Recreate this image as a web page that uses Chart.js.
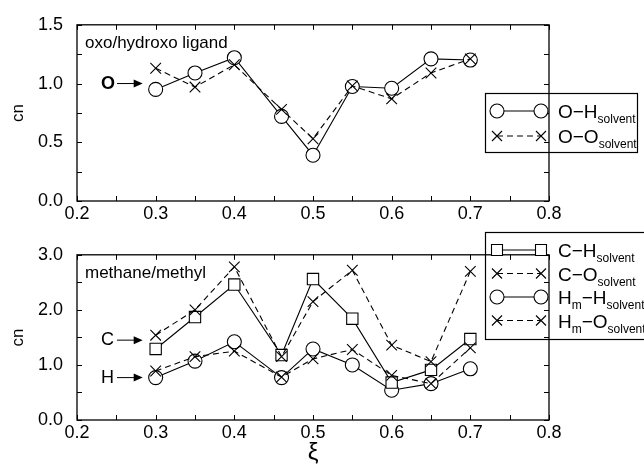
<!DOCTYPE html>
<html>
<head>
<meta charset="utf-8">
<script src="https://cdn.jsdelivr.net/npm/chart.js@4"></script>
<style>
  html, body { margin: 0; padding: 0; background: #fff; }
  #wrap { position: relative; width: 644px; height: 472px; }
  #topChart { position: absolute; left: 0; top: 0; }
  #botChart { position: absolute; left: 0; top: 230px; }
</style>
</head>
<body>
<div id="wrap">
  <canvas id="topChart" width="644" height="230"></canvas>
  <canvas id="botChart" width="644" height="242"></canvas>
</div>
<script>
// reaction coordinate xi
const xi = [0.3, 0.35, 0.4, 0.46, 0.5, 0.55, 0.6, 0.65, 0.7];

// oxo/hydroxo ligand
const oH = [0.95, 1.09, 1.22, 0.72, 0.39, 0.975, 0.96, 1.21, 1.20];
const oO = [1.13, 0.97, 1.16, 0.78, 0.53, 0.98, 0.87, 1.09, 1.21];

// methane/methyl
const cH = [1.29, 1.87, 2.46, 1.18, 2.56, 1.84, 0.68, 0.91, 1.47];
const cO = [1.54, 2.0, 2.78, 1.15, 2.15, 2.72, 1.36, 1.06, 2.7];
const hH = [0.77, 1.07, 1.42, 0.77, 1.29, 1.0, 0.54, 0.66, 0.93];
const hO = [0.89, 1.15, 1.25, 0.78, 1.11, 1.28, 0.81, 0.66, 1.31];

const topYTicks = [0.0, 0.5, 1.0, 1.5];
const botYTicks = [0.0, 1.0, 2.0, 3.0];

const FONT = "'Liberation Sans', Arial, sans-serif";

function pts(ys) {
  return xi.map((x, i) => ({ x: x, y: ys[i] }));
}

function series(label, ys, style, dashed, order) {
  return {
    label,
    data: pts(ys),
    borderColor: '#000',
    borderWidth: 1.1,
    borderDash: dashed ? [6, 4] : [],
    pointStyle: style,
    pointRadius: style === 'crossRot' ? 7.5 : (style === 'rect' ? 8 : 7),
    pointBorderColor: '#000',
    pointBorderWidth: 1.1,
    pointBackgroundColor: style === 'crossRot' ? 'transparent' : '#fff',
    tension: 0,
    order
  };
}

// marker used in the hand-drawn legend
function marker(ctx, style, x, y) {
  ctx.save();
  ctx.setLineDash([]);
  ctx.beginPath();
  if (style === 'circle') {
    ctx.arc(x, y, 7, 0, Math.PI * 2);
    ctx.fillStyle = '#fff';
    ctx.fill();
  } else if (style === 'rect') {
    ctx.rect(x - 5.5, y - 5.5, 11, 11);
    ctx.fillStyle = '#fff';
    ctx.fill();
  } else {
    ctx.moveTo(x - 5, y - 5); ctx.lineTo(x + 5, y + 5);
    ctx.moveTo(x + 5, y - 5); ctx.lineTo(x - 5, y + 5);
  }
  ctx.stroke();
  ctx.restore();
}

// text made of [string, isSub] parts
function richText(ctx, parts, x, y) {
  ctx.textBaseline = 'alphabetic';
  ctx.textAlign = 'left';
  parts.forEach(p => {
    ctx.font = p[1] ? '12px ' + FONT : '19px ' + FONT;
    ctx.fillText(p[0], x, p[1] ? y + 5 : y);
    x += ctx.measureText(p[0]).width;
  });
}

function arrow(ctx, x0, x1, y) {
  ctx.save();
  ctx.lineWidth = 1;
  ctx.beginPath();
  ctx.moveTo(x0, y);
  ctx.lineTo(x1 - 8, y);
  ctx.stroke();
  ctx.beginPath();
  ctx.moveTo(x1, y);
  ctx.lineTo(x1 - 9, y - 4);
  ctx.lineTo(x1 - 9, y + 4);
  ctx.closePath();
  ctx.fill();
  ctx.restore();
}

// frame, inward ticks, labels, legend
function decoPlugin(cfg) {
  return {
    id: 'deco',
    afterDraw(chart) {
      const ctx = chart.ctx;
      const a = chart.chartArea;
      const xs = chart.scales.x, ys = chart.scales.y;
      ctx.save();
      ctx.strokeStyle = '#000';
      ctx.fillStyle = '#000';
      ctx.lineWidth = 1.3;
      ctx.strokeRect(a.left, a.top, a.right - a.left, a.bottom - a.top);

      ctx.lineWidth = 1;
      const tl = 5;
      xs.ticks.forEach(t => {
        const px = Math.round(xs.getPixelForValue(t.value)) + 0.5;
        ctx.beginPath();
        ctx.moveTo(px, a.bottom); ctx.lineTo(px, a.bottom - tl);
        ctx.moveTo(px, a.top); ctx.lineTo(px, a.top + tl);
        ctx.stroke();
      });
      ys.ticks.forEach(t => {
        const py = Math.round(ys.getPixelForValue(t.value)) + 0.5;
        ctx.beginPath();
        ctx.moveTo(a.left, py); ctx.lineTo(a.left + tl, py);
        ctx.moveTo(a.right, py); ctx.lineTo(a.right - tl, py);
        ctx.stroke();
      });

      // axis title cn
      ctx.save();
      ctx.translate(18, (a.top + a.bottom) / 2);
      ctx.rotate(-Math.PI / 2);
      ctx.font = '17px ' + FONT;
      ctx.textAlign = 'center';
      ctx.textBaseline = 'middle';
      ctx.fillText('cn', 0, 0);
      ctx.restore();

      // panel title
      ctx.font = '17px ' + FONT;
      ctx.textAlign = 'left';
      ctx.textBaseline = 'middle';
      ctx.fillText(cfg.title, a.left + 8, a.top + 19);

      // arrow annotations
      const ax1 = xs.getPixelForValue(0.3) - 13;
      cfg.arrows.forEach(ar => {
        const py = ys.getPixelForValue(ar.y);
        ctx.font = (ar.bold ? 'bold ' : '') + '18px ' + FONT;
        ctx.textAlign = 'left';
        ctx.textBaseline = 'middle';
        ctx.fillText(ar.text, a.left + 24, py);
        arrow(ctx, a.left + 40, ax1, py);
      });

      if (cfg.xiLabel) {
        ctx.font = '24px ' + FONT;
        ctx.textAlign = 'center';
        ctx.textBaseline = 'middle';
        ctx.fillText('\u03BE', xs.getPixelForValue(0.5), a.bottom + 33);
      }

      // legend
      const L = cfg.legend;
      const bx = a.right - 64;
      ctx.lineWidth = 1.2;
      ctx.setLineDash([]);
      ctx.strokeRect(bx + 0.5, L.top + 0.5, L.width, L.height);
      ctx.lineWidth = 1.1;
      L.rows.forEach((r, i) => {
        const cy = L.first + i * L.step;
        const m0 = bx + 12, m1 = bx + 56;
        ctx.save();
        ctx.setLineDash(r.dashed ? [6, 4] : []);
        ctx.beginPath();
        ctx.moveTo(m0, cy); ctx.lineTo(m1, cy);
        ctx.stroke();
        ctx.restore();
        marker(ctx, r.style, m0, cy);
        marker(ctx, r.style, m1, cy);
        richText(ctx, r.text, bx + 73, cy + 7);
      });
      ctx.restore();
    }
  };
}

function makeChart(id, datasets, yMax, yStep, yLabels, padTop, xHeight, deco) {
  return new Chart(document.getElementById(id), {
    type: 'line',
    data: { datasets },
    options: {
      responsive: false,
      animation: false,
      layout: { padding: { left: 0, right: 95, top: padTop, bottom: 0 } },
      plugins: { legend: { display: false }, tooltip: { enabled: false } },
      scales: {
        x: {
          type: 'linear',
          min: 0.2, max: 0.8,
          grid: { display: false, drawTicks: false },
          border: { display: false },
          afterFit: s => { s.height = xHeight; },
          ticks: {
            stepSize: 0.05,
            autoSkip: false,
            maxRotation: 0,
            padding: 2,
            color: '#000',
            font: { family: FONT, size: 18 },
            callback: v => {
              const r = Math.round(v * 100);
              return r % 10 === 0 ? (r / 100).toFixed(1) : '';
            }
          }
        },
        y: {
          type: 'linear',
          min: 0, max: yMax,
          grid: { display: false, drawTicks: false },
          border: { display: false },
          afterFit: s => { s.width = 77; },
          ticks: {
            stepSize: yStep,
            autoSkip: false,
            padding: 14,
            color: '#000',
            font: { family: FONT, size: 18 },
            callback: v => {
              const hit = yLabels.find(t => Math.abs(t - v) < 1e-6);
              return hit === undefined ? '' : hit.toFixed(1);
            }
          }
        }
      }
    },
    plugins: [decoPlugin(deco)]
  });
}

makeChart('topChart', [
  series('O-H solvent', oH, 'circle', false, 1),
  series('O-O solvent', oO, 'crossRot', true, 0)
], 1.5, 0.25, topYTicks, 20, 29, {
  title: 'oxo/hydroxo ligand',
  arrows: [{ text: 'O', y: 1.0, bold: true }],
  xiLabel: false,
  legend: {
    top: 93, height: 59, width: 152, first: 111, step: 25,
    rows: [
      { style: 'circle', dashed: false, text: [['O\u2212H', false], ['solvent', true]] },
      { style: 'crossRot', dashed: true, text: [['O\u2212O', false], ['solvent', true]] }
    ]
  }
});

makeChart('botChart', [
  series('C-H solvent', cH, 'rect', false, 1),
  series('C-O solvent', cO, 'crossRot', true, 0),
  series('Hm-H solvent', hH, 'circle', false, 1),
  series('Hm-O solvent', hO, 'crossRot', true, 0)
], 3.0, 0.5, botYTicks, 10, 52, {
  title: 'methane/methyl',
  arrows: [{ text: 'C', y: 1.45, bold: false }, { text: 'H', y: 0.77, bold: false }],
  xiLabel: true,
  legend: {
    top: 2, height: 107, width: 180, first: 20, step: 23.5,
    rows: [
      { style: 'rect', dashed: false, text: [['C\u2212H', false], ['solvent', true]] },
      { style: 'crossRot', dashed: true, text: [['C\u2212O', false], ['solvent', true]] },
      { style: 'circle', dashed: false, text: [['H', false], ['m', true], ['\u2212H', false], ['solvent', true]] },
      { style: 'crossRot', dashed: true, text: [['H', false], ['m', true], ['\u2212O', false], ['solvent', true]] }
    ]
  }
});
</script>
</body>
</html>
